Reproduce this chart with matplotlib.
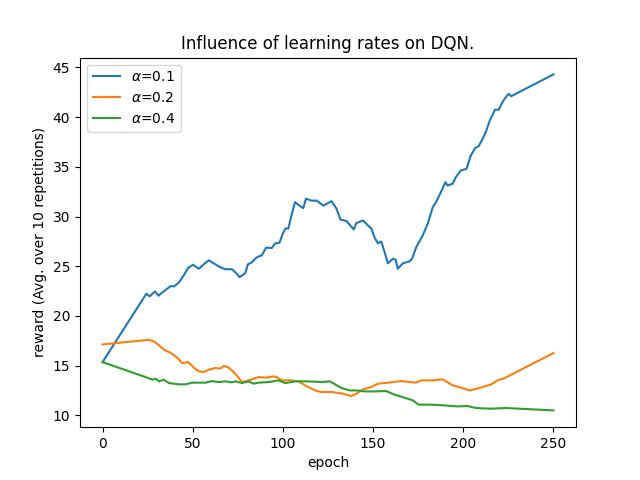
import matplotlib
matplotlib.use('Agg')
import matplotlib.pyplot as plt

# learning rate alpha = 0.1
ep_a1 = [0, 24.3, 26.1, 29.1, 31.0, 34.1, 37.7, 39.6, 42.3, 45.1, 47.5, 50.2, 53.4,
         56.1, 58.9, 61.6, 65.3, 68.1, 71.7, 73.6, 76.0, 79.1, 80.6, 82.8, 85.5, 88.3,
         90.7, 93.8, 95.7, 98.1, 99.9, 101.5, 103.0, 104.5, 106.7, 109.5, 111.3, 112.8,
         115.9, 118.7, 122.4, 126.9, 129.7, 131.9, 135.2, 139.3, 140.7, 144.4, 147.2,
         149.0, 150.9, 152.7, 154.5, 156.4, 158.2, 161.0, 162.5, 163.7, 166.5, 170.2,
         171.6, 173.8, 177.5, 180.3, 183.1, 184.9, 187.6, 190.1, 191.3, 194.1, 195.9,
         198.7, 201.8, 204.2, 206.6, 208.4, 210.6, 212.5, 214.7, 217.6, 219.7, 221.9,
         224.3, 225.2, 226.5, 250]
rw_a1 = [15.36, 22.24, 21.97, 22.47, 22.04, 22.5, 23.0, 22.97, 23.35, 24.1, 24.85,
         25.15, 24.75, 25.2, 25.6, 25.3, 24.9, 24.7, 24.7, 24.4, 23.9, 24.3, 25.2, 25.4,
         25.9, 26.1, 26.87, 26.83, 27.3, 27.37, 28.27, 28.8, 28.8, 29.95, 31.45, 31.05,
         30.85, 31.8, 31.6, 31.6, 31.1, 31.55, 30.8, 29.7, 29.55, 28.7, 29.35, 29.6,
         29.1, 28.8, 27.85, 27.3, 27.5, 26.42, 25.3, 25.76, 25.66, 24.75, 25.3, 25.5,
         25.76, 26.87, 28.1, 29.28, 30.95, 31.45, 32.46, 33.46, 33.13, 33.3, 33.97,
         34.64, 34.8, 36.15, 36.9, 37.05, 37.76, 38.5, 39.67, 40.75, 40.75, 41.58,
         42.18, 42.35, 42.1, 44.3]

# learning rate alpha = 0.2
ep_a2 = [0, 25.8, 28.5, 31.3, 34.6, 37.7, 41.4, 44.2, 47.5, 50.6, 53.4, 56.1, 58.9,
         62.6, 65.3, 67.2, 69.5, 72.7, 75.4, 77.3, 81.0, 83.7, 86.5, 90.2, 94.8, 96.6,
         99.3, 104.9, 108.5, 113.1, 117.8, 121.4, 126.9, 133.4, 138.0, 140.7, 144.4,
         149.0, 152.7, 158.2, 165.6, 173.8, 176.6, 183.1, 188.6, 194.1, 199.6, 203.3,
         208.8, 215.2, 218.9, 222.6, 250]
rw_a2 = [17.14, 17.6, 17.44, 17.04, 16.54, 16.3, 15.8, 15.26, 15.36, 14.8, 14.43, 14.36,
         14.6, 14.76, 14.7, 14.96, 14.86, 14.36, 13.79, 13.35, 13.52, 13.69, 13.85,
         13.79, 13.92, 13.85, 13.52, 13.52, 13.42, 12.95, 12.51, 12.35, 12.35, 12.18,
         11.94, 12.18, 12.61, 12.85, 13.19, 13.29, 13.45, 13.29, 13.52, 13.52, 13.62,
         13.02, 12.75, 12.51, 12.75, 13.09, 13.52, 13.72, 16.27]

# learning rate alpha = 0.4
ep_a4 = [0, 24.8, 27.6, 29.5, 31.3, 34.0, 36.8, 42.3, 46.0, 49.7, 57.1, 60.7, 64.4,
         68.1, 71.7, 73.6, 77.3, 81.0, 83.7, 86.5, 92.0, 97.5, 101.2, 106.7, 114.1,
         121.4, 126.0, 132.5, 137.1, 140.7, 145.4, 150.9, 157.3, 161.9, 167.4, 172.0,
         175.2, 182.1, 189.5, 196.9, 202.4, 207.0, 215.2, 223.5, 250]
rw_a4 = [15.36, 13.79, 13.59, 13.69, 13.42, 13.59, 13.25, 13.12, 13.12, 13.29, 13.29,
         13.45, 13.35, 13.42, 13.32, 13.42, 13.25, 13.42, 13.19, 13.29, 13.35, 13.52,
         13.25, 13.42, 13.42, 13.35, 13.42, 12.75, 12.51, 12.51, 12.41, 12.41, 12.45,
         12.08, 11.78, 11.51, 11.08, 11.08, 11.0, 10.9, 10.94, 10.74, 10.67, 10.74,
         10.5]

fig, ax = plt.subplots(figsize=(6.4, 4.8), dpi=100)
ax.plot(ep_a1, rw_a1, label=r'$\alpha$=0.1')
ax.plot(ep_a2, rw_a2, label=r'$\alpha$=0.2')
ax.plot(ep_a4, rw_a4, label=r'$\alpha$=0.4')

ax.set_title('Influence of learning rates on DQN.')
ax.set_xlabel('epoch')
ax.set_ylabel('reward (Avg. over 10 repetitions)')
ax.legend(loc='upper left')

fig.savefig('out.png', dpi=100)
